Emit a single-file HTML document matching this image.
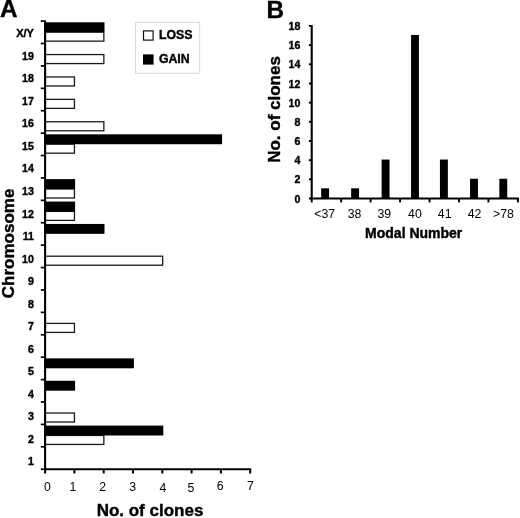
<!DOCTYPE html>
<html><head><meta charset="utf-8"><title>Figure</title>
<style>html,body{margin:0;padding:0;background:#fff;}body{width:520px;height:518px;overflow:hidden;}svg{display:block;filter:blur(0.35px);}text{font-family:"Liberation Sans",sans-serif;fill:#000;}.b{font-weight:bold;stroke:#000;stroke-width:0.4px;stroke-linejoin:round;}</style>
</head><body>
<svg width="520" height="518" viewBox="0 0 520 518">
<rect x="0" y="0" width="520" height="518" fill="#fff"/>
<text class="b" x="-0.1" y="17.2" font-size="24.3">A</text>
<text class="b" x="266.5" y="18.0" font-size="24.3">B</text>
<rect x="45.10" y="435.44" width="58.75" height="9.00" fill="#fff" stroke="#1a1a1a" stroke-width="1.3"/>
<rect x="45.10" y="425.59" width="118.20" height="9.90" fill="#000"/>
<rect x="45.10" y="413.03" width="29.35" height="9.00" fill="#fff" stroke="#1a1a1a" stroke-width="1.3"/>
<rect x="45.10" y="380.78" width="30.00" height="9.90" fill="#000"/>
<rect x="45.10" y="358.38" width="88.80" height="9.90" fill="#000"/>
<rect x="45.10" y="323.41" width="29.35" height="9.00" fill="#fff" stroke="#1a1a1a" stroke-width="1.3"/>
<rect x="45.10" y="256.20" width="117.55" height="9.00" fill="#fff" stroke="#1a1a1a" stroke-width="1.3"/>
<rect x="45.10" y="223.94" width="59.40" height="9.90" fill="#000"/>
<rect x="45.10" y="211.39" width="29.35" height="9.00" fill="#fff" stroke="#1a1a1a" stroke-width="1.3"/>
<rect x="45.10" y="201.54" width="30.00" height="9.90" fill="#000"/>
<rect x="45.10" y="188.99" width="29.35" height="9.00" fill="#fff" stroke="#1a1a1a" stroke-width="1.3"/>
<rect x="45.10" y="179.13" width="30.00" height="9.90" fill="#000"/>
<rect x="45.10" y="144.18" width="29.35" height="9.00" fill="#fff" stroke="#1a1a1a" stroke-width="1.3"/>
<rect x="45.10" y="134.32" width="177.00" height="9.90" fill="#000"/>
<rect x="45.10" y="121.77" width="58.75" height="9.00" fill="#fff" stroke="#1a1a1a" stroke-width="1.3"/>
<rect x="45.10" y="99.37" width="29.35" height="9.00" fill="#fff" stroke="#1a1a1a" stroke-width="1.3"/>
<rect x="45.10" y="76.96" width="29.35" height="9.00" fill="#fff" stroke="#1a1a1a" stroke-width="1.3"/>
<rect x="45.10" y="54.56" width="58.75" height="9.00" fill="#fff" stroke="#1a1a1a" stroke-width="1.3"/>
<rect x="45.10" y="32.15" width="58.75" height="9.00" fill="#fff" stroke="#1a1a1a" stroke-width="1.3"/>
<rect x="45.10" y="22.30" width="59.40" height="9.90" fill="#000"/>
<line x1="45.1" y1="20.6" x2="45.1" y2="470.2" stroke="#000" stroke-width="2.1"/>
<line x1="44.1" y1="469.2" x2="251.25" y2="469.2" stroke="#000" stroke-width="2.1"/>
<line x1="40.80" y1="469.20" x2="45.10" y2="469.20" stroke="#000" stroke-width="1.7"/>
<line x1="40.80" y1="446.80" x2="45.10" y2="446.80" stroke="#000" stroke-width="1.7"/>
<line x1="40.80" y1="424.39" x2="45.10" y2="424.39" stroke="#000" stroke-width="1.7"/>
<line x1="40.80" y1="401.99" x2="45.10" y2="401.99" stroke="#000" stroke-width="1.7"/>
<line x1="40.80" y1="379.58" x2="45.10" y2="379.58" stroke="#000" stroke-width="1.7"/>
<line x1="40.80" y1="357.18" x2="45.10" y2="357.18" stroke="#000" stroke-width="1.7"/>
<line x1="40.80" y1="334.77" x2="45.10" y2="334.77" stroke="#000" stroke-width="1.7"/>
<line x1="40.80" y1="312.37" x2="45.10" y2="312.37" stroke="#000" stroke-width="1.7"/>
<line x1="40.80" y1="289.96" x2="45.10" y2="289.96" stroke="#000" stroke-width="1.7"/>
<line x1="40.80" y1="267.56" x2="45.10" y2="267.56" stroke="#000" stroke-width="1.7"/>
<line x1="40.80" y1="245.15" x2="45.10" y2="245.15" stroke="#000" stroke-width="1.7"/>
<line x1="40.80" y1="222.75" x2="45.10" y2="222.75" stroke="#000" stroke-width="1.7"/>
<line x1="40.80" y1="200.34" x2="45.10" y2="200.34" stroke="#000" stroke-width="1.7"/>
<line x1="40.80" y1="177.94" x2="45.10" y2="177.94" stroke="#000" stroke-width="1.7"/>
<line x1="40.80" y1="155.53" x2="45.10" y2="155.53" stroke="#000" stroke-width="1.7"/>
<line x1="40.80" y1="133.12" x2="45.10" y2="133.12" stroke="#000" stroke-width="1.7"/>
<line x1="40.80" y1="110.72" x2="45.10" y2="110.72" stroke="#000" stroke-width="1.7"/>
<line x1="40.80" y1="88.32" x2="45.10" y2="88.32" stroke="#000" stroke-width="1.7"/>
<line x1="40.80" y1="65.91" x2="45.10" y2="65.91" stroke="#000" stroke-width="1.7"/>
<line x1="40.80" y1="43.51" x2="45.10" y2="43.51" stroke="#000" stroke-width="1.7"/>
<line x1="40.80" y1="21.10" x2="45.10" y2="21.10" stroke="#000" stroke-width="1.7"/>
<line x1="45.10" y1="469.20" x2="45.10" y2="473.50" stroke="#000" stroke-width="2"/>
<text x="47.4" y="491.0" font-size="12.3" text-anchor="middle">0</text>
<line x1="74.40" y1="469.20" x2="74.40" y2="473.50" stroke="#000" stroke-width="2"/>
<text x="73.0" y="491.0" font-size="12.3" text-anchor="middle">1</text>
<line x1="103.70" y1="469.20" x2="103.70" y2="473.50" stroke="#000" stroke-width="2"/>
<text x="102.7" y="491.0" font-size="12.3" text-anchor="middle">2</text>
<line x1="133.00" y1="469.20" x2="133.00" y2="473.50" stroke="#000" stroke-width="2"/>
<text x="132.6" y="491.0" font-size="12.3" text-anchor="middle">3</text>
<line x1="162.30" y1="469.20" x2="162.30" y2="473.50" stroke="#000" stroke-width="2"/>
<text x="163.0" y="491.7" font-size="12.3" text-anchor="middle">4</text>
<line x1="191.60" y1="469.20" x2="191.60" y2="473.50" stroke="#000" stroke-width="2"/>
<text x="191.0" y="491.7" font-size="12.3" text-anchor="middle">5</text>
<line x1="220.90" y1="469.20" x2="220.90" y2="473.50" stroke="#000" stroke-width="2"/>
<text x="220.1" y="490.4" font-size="12.3" text-anchor="middle">6</text>
<line x1="250.20" y1="469.20" x2="250.20" y2="473.50" stroke="#000" stroke-width="2"/>
<text x="250.3" y="490.4" font-size="12.3" text-anchor="middle">7</text>
<text class="b" x="33.9" y="465.25" font-size="10.6" text-anchor="end">1</text>
<text class="b" x="33.9" y="442.73" font-size="10.6" text-anchor="end">2</text>
<text class="b" x="33.9" y="420.21" font-size="10.6" text-anchor="end">3</text>
<text class="b" x="33.9" y="397.69" font-size="10.6" text-anchor="end">4</text>
<text class="b" x="33.9" y="375.17" font-size="10.6" text-anchor="end">5</text>
<text class="b" x="33.9" y="352.65" font-size="10.6" text-anchor="end">6</text>
<text class="b" x="33.9" y="330.13" font-size="10.6" text-anchor="end">7</text>
<text class="b" x="33.9" y="307.61" font-size="10.6" text-anchor="end">8</text>
<text class="b" x="33.9" y="285.09" font-size="10.6" text-anchor="end">9</text>
<text class="b" x="33.9" y="262.57" font-size="10.6" text-anchor="end">10</text>
<text class="b" x="33.9" y="240.05" font-size="10.6" text-anchor="end">11</text>
<text class="b" x="33.9" y="217.53" font-size="10.6" text-anchor="end">12</text>
<text class="b" x="33.9" y="195.01" font-size="10.6" text-anchor="end">13</text>
<text class="b" x="33.9" y="172.49" font-size="10.6" text-anchor="end">14</text>
<text class="b" x="33.9" y="149.97" font-size="10.6" text-anchor="end">15</text>
<text class="b" x="33.9" y="127.45" font-size="10.6" text-anchor="end">16</text>
<text class="b" x="33.9" y="104.93" font-size="10.6" text-anchor="end">17</text>
<text class="b" x="33.9" y="82.41" font-size="10.6" text-anchor="end">18</text>
<text class="b" x="33.9" y="59.89" font-size="10.6" text-anchor="end">19</text>
<text class="b" x="33.9" y="37.37" font-size="11.0" text-anchor="end">X/Y</text>
<text class="b" x="150" y="515.6" font-size="17" text-anchor="middle">No. of clones</text>
<text class="b" transform="translate(13.5,243.4) rotate(-90)" font-size="17" text-anchor="middle">Chromosome</text>
<rect x="135.5" y="22.3" width="64.2" height="51" fill="#fff" stroke="#d9d9d9" stroke-width="1"/>
<rect x="143.5" y="30.9" width="9.6" height="9.2" fill="#fff" stroke="#111" stroke-width="1.2"/>
<rect x="143" y="54.4" width="10.6" height="10.2" fill="#000"/>
<text class="b" x="158.9" y="39.0" font-size="12.3">LOSS</text>
<text class="b" x="158.9" y="63.2" font-size="12.3">GAIN</text>
<rect x="321.15" y="188.31" width="7.9" height="10.19" fill="#000"/>
<text x="324.7" y="217.5" font-size="12.3" text-anchor="middle">&lt;37</text>
<rect x="351.15" y="188.31" width="7.9" height="10.19" fill="#000"/>
<text x="354.6" y="217.5" font-size="12.3" text-anchor="middle">38</text>
<rect x="381.65" y="159.56" width="7.9" height="38.94" fill="#000"/>
<text x="384.3" y="217.5" font-size="12.3" text-anchor="middle">39</text>
<rect x="411.05" y="34.95" width="7.9" height="163.55" fill="#000"/>
<text x="414.9" y="217.5" font-size="12.3" text-anchor="middle">40</text>
<rect x="439.95" y="159.56" width="7.9" height="38.94" fill="#000"/>
<text x="444.7" y="217.5" font-size="12.3" text-anchor="middle">41</text>
<rect x="470.05" y="178.73" width="7.9" height="19.77" fill="#000"/>
<text x="474.5" y="217.5" font-size="12.3" text-anchor="middle">42</text>
<rect x="499.35" y="178.73" width="7.9" height="19.77" fill="#000"/>
<text x="503.4" y="217.5" font-size="12.3" text-anchor="middle">&gt;78</text>
<line x1="311.7" y1="25.17" x2="311.7" y2="199.5" stroke="#000" stroke-width="2.1"/>
<line x1="310.7" y1="198.5" x2="518.90" y2="198.5" stroke="#000" stroke-width="2.1"/>
<line x1="308.90" y1="198.50" x2="311.7" y2="198.50" stroke="#000" stroke-width="1.9"/>
<text class="b" x="300.4" y="202.60" font-size="10.6" text-anchor="end">0</text>
<line x1="308.90" y1="179.33" x2="311.7" y2="179.33" stroke="#000" stroke-width="1.9"/>
<text class="b" x="300.4" y="183.43" font-size="10.6" text-anchor="end">2</text>
<line x1="308.90" y1="160.16" x2="311.7" y2="160.16" stroke="#000" stroke-width="1.9"/>
<text class="b" x="300.4" y="164.26" font-size="10.6" text-anchor="end">4</text>
<line x1="308.90" y1="140.99" x2="311.7" y2="140.99" stroke="#000" stroke-width="1.9"/>
<text class="b" x="300.4" y="145.09" font-size="10.6" text-anchor="end">6</text>
<line x1="308.90" y1="121.82" x2="311.7" y2="121.82" stroke="#000" stroke-width="1.9"/>
<text class="b" x="300.4" y="125.92" font-size="10.6" text-anchor="end">8</text>
<line x1="308.90" y1="102.65" x2="311.7" y2="102.65" stroke="#000" stroke-width="1.9"/>
<text class="b" x="300.4" y="106.75" font-size="10.6" text-anchor="end">10</text>
<line x1="308.90" y1="83.48" x2="311.7" y2="83.48" stroke="#000" stroke-width="1.9"/>
<text class="b" x="300.4" y="87.58" font-size="10.6" text-anchor="end">12</text>
<line x1="308.90" y1="64.31" x2="311.7" y2="64.31" stroke="#000" stroke-width="1.9"/>
<text class="b" x="300.4" y="68.41" font-size="10.6" text-anchor="end">14</text>
<line x1="308.90" y1="45.14" x2="311.7" y2="45.14" stroke="#000" stroke-width="1.9"/>
<text class="b" x="300.4" y="49.24" font-size="10.6" text-anchor="end">16</text>
<line x1="308.90" y1="25.97" x2="311.7" y2="25.97" stroke="#000" stroke-width="1.9"/>
<text class="b" x="300.4" y="30.07" font-size="10.6" text-anchor="end">18</text>
<line x1="311.70" y1="198.5" x2="311.70" y2="202.4" stroke="#000" stroke-width="2"/>
<line x1="341.16" y1="198.5" x2="341.16" y2="202.4" stroke="#000" stroke-width="2"/>
<line x1="370.61" y1="198.5" x2="370.61" y2="202.4" stroke="#000" stroke-width="2"/>
<line x1="400.07" y1="198.5" x2="400.07" y2="202.4" stroke="#000" stroke-width="2"/>
<line x1="429.53" y1="198.5" x2="429.53" y2="202.4" stroke="#000" stroke-width="2"/>
<line x1="458.99" y1="198.5" x2="458.99" y2="202.4" stroke="#000" stroke-width="2"/>
<line x1="488.44" y1="198.5" x2="488.44" y2="202.4" stroke="#000" stroke-width="2"/>
<line x1="517.90" y1="198.5" x2="517.90" y2="202.4" stroke="#000" stroke-width="2"/>
<text class="b" x="413.7" y="237.9" font-size="14" text-anchor="middle">Modal Number</text>
<text class="b" transform="translate(280.4,109.5) rotate(-90)" font-size="17" text-anchor="middle">No. of clones</text>
</svg></body></html>
